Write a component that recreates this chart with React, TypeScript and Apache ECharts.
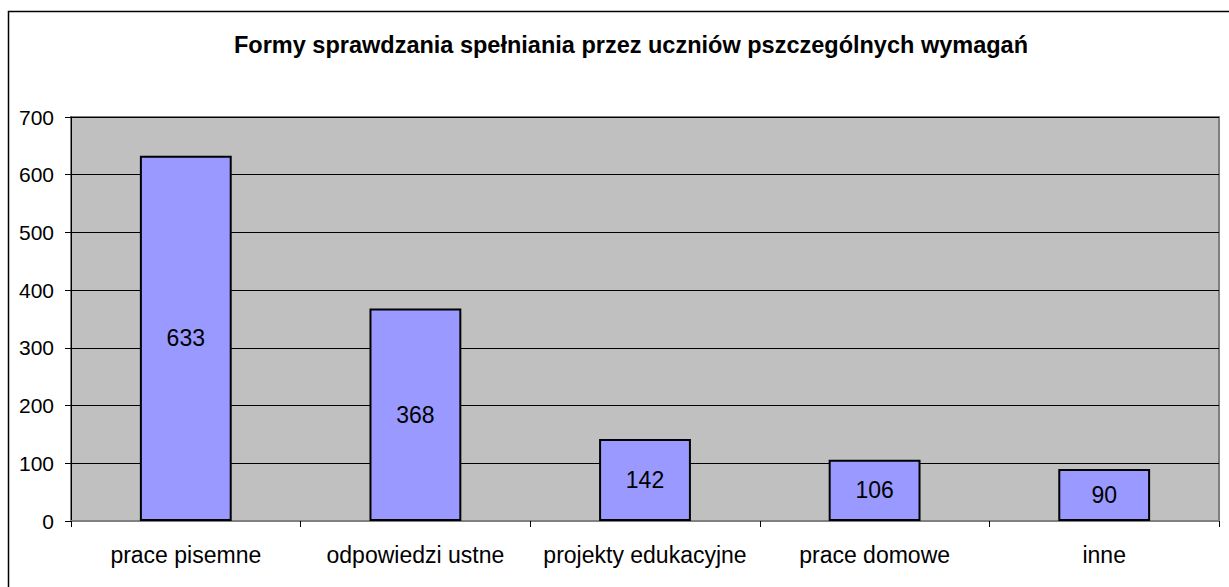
import React, { useEffect, useRef } from "react";
import * as echarts from "echarts";

const categories = ["prace pisemne", "odpowiedzi ustne", "projekty edukacyjne", "prace domowe", "inne"];
const values = [633, 368, 142, 106, 90];
const yTicks = [0, 100, 200, 300, 400, 500, 600, 700];
const titleText = "Formy sprawdzania spełniania przez uczniów pszczególnych wymagań";

const FONT = "'Liberation Sans', Arial, sans-serif";

export default function App() {
  const ref = useRef<HTMLDivElement>(null);
  useEffect(() => {
    if (!ref.current) return;
    const chart = echarts.init(ref.current, undefined, { renderer: "svg" });
    chart.setOption({
      animation: false,
      backgroundColor: "#ffffff",
      title: {
        text: titleText,
        left: 626,
        top: 28,
        textAlign: "center",
        textStyle: { fontFamily: FONT, fontSize: 23.5, fontWeight: "bold", color: "#000" },
      },
      graphic: [
        {
          type: "rect",
          shape: { x: 8.5, y: 11.5, width: 1240, height: 600 },
          style: { fill: "none", stroke: "#000", lineWidth: 1.5 },
          z: 100,
          silent: true,
        },
      ],
      grid: {
        left: 71,
        top: 117,
        right: 10,
        bottom: 66,
        show: true,
        backgroundColor: "#C0C0C0",
        borderColor: "#808080",
        borderWidth: 2,
      },
      xAxis: {
        type: "category",
        data: categories,
        axisLine: { show: true, lineStyle: { color: "#808080", width: 2 } },
        axisTick: { show: true, alignWithLabel: false, length: 6, lineStyle: { color: "#000", width: 1 } },
        axisLabel: { fontFamily: FONT, fontSize: 23, color: "#000", margin: 22, interval: 0 },
        splitLine: { show: false },
      },
      yAxis: {
        type: "value",
        min: yTicks[0],
        max: yTicks[yTicks.length - 1],
        interval: 100,
        axisLine: { show: true, lineStyle: { color: "#000", width: 1 } },
        axisTick: { show: true, inside: false, length: 6, lineStyle: { color: "#000" } },
        axisLabel: { fontFamily: FONT, fontSize: 21, color: "#000", margin: 17 },
        splitLine: { show: true, lineStyle: { color: "#000", width: 1 } },
      },
      series: [
        {
          type: "bar",
          data: values,
          barCategoryGap: "60%",
          itemStyle: { color: "#9999FF", borderColor: "#000", borderWidth: 2 },
          label: {
            show: true,
            position: "inside",
            fontFamily: FONT,
            fontSize: 23,
            color: "#000",
          },
        },
      ],
    });
    return () => chart.dispose();
  }, []);
  return (
    <div
      ref={ref}
      style={{ position: "fixed", left: 0, top: 0, width: 1229, height: 587 }}
    />
  );
}
